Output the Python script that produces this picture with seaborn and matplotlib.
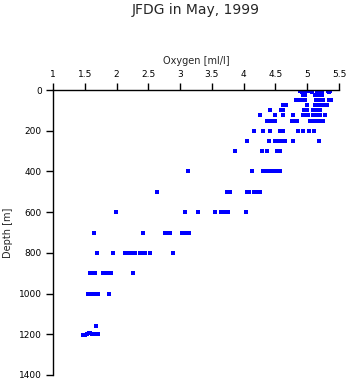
import matplotlib
matplotlib.use("Agg")
import matplotlib.pyplot as plt
import seaborn as sns
import pandas as pd

# ---- data: oxygen [ml/l] samples at each depth level [m] ----
ox_d5 = [4.89, 4.95, 5.00, 5.05, 5.17, 5.20, 5.24, 5.33, 5.36]
ox_d12 = [4.92, 5.07, 5.15, 5.22, 5.35]
ox_d25 = [4.94, 4.97, 5.12, 5.16, 5.20, 5.24]
ox_d50 = [4.82, 4.87, 4.94, 4.96, 5.14, 5.18, 5.22, 5.25, 5.35, 5.38]
ox_d75 = [4.62, 4.66, 5.00, 5.12, 5.16, 5.20, 5.24, 5.28, 5.31]
ox_d100 = [4.41, 4.58, 4.62, 4.95, 4.99, 5.09, 5.13, 5.17, 5.20]
ox_d125 = [4.26, 4.50, 4.62, 4.78, 4.93, 4.97, 5.01, 5.09, 5.13, 5.17, 5.20, 5.28]
ox_d150 = [4.37, 4.41, 4.45, 4.49, 4.76, 4.80, 4.84, 5.05, 5.11, 5.15, 5.19, 5.23, 5.25]
ox_d200 = [4.16, 4.30, 4.41, 4.57, 4.62, 4.85, 4.93, 5.03, 5.11]
ox_d250 = [4.05, 4.40, 4.50, 4.55, 4.60, 4.65, 4.78, 5.18]
ox_d300 = [3.86, 4.29, 4.37, 4.52, 4.57]
ox_d400 = [3.12, 4.13, 4.30, 4.34, 4.37, 4.43, 4.47, 4.53, 4.57]
ox_d500 = [2.64, 3.74, 3.78, 4.05, 4.09, 4.16, 4.20, 4.26]
ox_d600 = [1.99, 3.08, 3.28, 3.55, 3.64, 3.68, 3.72, 3.75, 4.04]
ox_d700 = [1.65, 2.42, 2.76, 2.80, 2.84, 3.03, 3.07, 3.10, 3.14]
ox_d800 = [1.69, 1.94, 2.13, 2.17, 2.21, 2.24, 2.29, 2.37, 2.41, 2.45, 2.53, 2.89]
ox_d900 = [1.58, 1.62, 1.66, 1.79, 1.83, 1.87, 1.91, 2.26]
ox_d1000 = [1.55, 1.59, 1.63, 1.67, 1.71, 1.88]
ox_d1160 = [1.68]
ox_d1200 = [1.47, 1.50, 1.53, 1.56, 1.59, 1.62, 1.65, 1.71]
ox_d1200_depth = [1205, 1202, 1198, 1195, 1195, 1197, 1198, 1198]

levels = [
    (5, ox_d5), (12, ox_d12), (25, ox_d25), (50, ox_d50), (75, ox_d75),
    (100, ox_d100), (125, ox_d125), (150, ox_d150), (200, ox_d200),
    (250, ox_d250), (300, ox_d300), (400, ox_d400), (500, ox_d500),
    (600, ox_d600), (700, ox_d700), (800, ox_d800), (900, ox_d900),
    (1000, ox_d1000), (1160, ox_d1160),
]

x_ticks = [1, 1.5, 2, 2.5, 3, 3.5, 4, 4.5, 5, 5.5]
x_tick_labels = ["1", "1.5", "2", "2.5", "3", "3.5", "4", "4.5", "5", "5.5"]
y_ticks = [0, 200, 400, 600, 800, 1000, 1200, 1400]

rows = []
for d, vals in levels:
    for v in vals:
        rows.append({"oxygen": v, "depth": d})
for v, d in zip(ox_d1200, ox_d1200_depth):
    rows.append({"oxygen": v, "depth": d})
df = pd.DataFrame(rows)

sns.set_style("ticks")
plt.rcParams["font.family"] = ["DejaVu Sans"]

fig = plt.figure(figsize=(3.5, 3.84), dpi=100)
ax = fig.add_axes([53 / 350, 1 - 375 / 384, (339 - 53) / 350, (375 - 90) / 384])

sns.scatterplot(data=df, x="oxygen", y="depth", marker="s", s=5.5,
                color="#0000ff", linewidth=0, ax=ax, legend=False)

ax.set_xlim(1, 5.5)
ax.set_ylim(1400, 0)
ax.set_xticks(x_ticks)
ax.set_xticklabels(x_tick_labels)
ax.set_yticks(y_ticks)
ax.xaxis.tick_top()
ax.xaxis.set_label_position("top")
for s in ["bottom", "right"]:
    ax.spines[s].set_visible(False)
for s in ["top", "left"]:
    ax.spines[s].set_linewidth(1.0)
    ax.spines[s].set_color("black")
ax.tick_params(axis="both", direction="out", length=5, width=1.0,
               labelsize=6.5, colors="black", pad=3)
ax.set_xlabel("Oxygen [ml/l]", fontsize=7, labelpad=4)
ax.set_ylabel("Depth [m]", fontsize=7, labelpad=4)

fig.text(196 / 350, 1 - 10 / 384, "JFDG in May, 1999", ha="center", va="center",
         fontsize=10)

fig.savefig("out.png", dpi=100, facecolor="white")
